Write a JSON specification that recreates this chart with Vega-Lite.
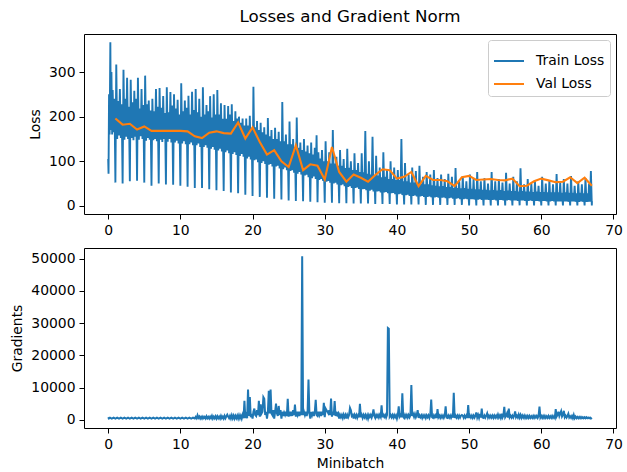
{
"$schema": "https://vega.github.io/schema/vega-lite/v6.json",
"padding": {"left": 10, "top": 8, "right": 0, "bottom": 0},
"config": {
  "font": "DejaVu Sans",
  "view": {"stroke": "black", "strokeWidth": 1},
  "axis": {"domain": false, "grid": false, "tickColor": "black", "tickSize": 5, "tickWidth": 1, "labelPadding": 4, "labelFontSize": 13.9, "labelColor": "black", "titleFontSize": 13.9, "titleFontWeight": "normal", "titleColor": "black", "titlePadding": 6},
  "title": {"fontSize": 16.7, "fontWeight": "normal", "color": "black", "offset": 8},
  "concat": {"spacing": 9}
},
"vconcat": [
  {
    "width": 532, "height": 180,
    "title": "Losses and Gradient Norm",
    "layer": [
      {
        "data": {"name": "train"},
        "mark": {"type": "line", "strokeWidth": 1.9},
        "encoding": {
          "x": {"field": "e", "type": "quantitative", "scale": {"domain": [-3.35, 70.35], "nice": false, "zero": false}, "axis": {"values": [0, 10, 20, 30, 40, 50, 60, 70], "title": null}},
          "y": {"field": "v", "type": "quantitative", "scale": {"domain": [-18.4, 385.4], "nice": false, "zero": false}, "axis": {"values": [0, 100, 200, 300], "title": "Loss"}},
          "color": {"datum": "Train Loss", "type": "nominal", "scale": {"domain": ["Train Loss", "Val Loss"], "range": ["#1f77b4", "#ff7f0e"]},
            "legend": {"title": null, "orient": "top-right", "offset": 6, "symbolType": "stroke", "symbolStrokeWidth": 2, "symbolSize": 900, "labelFontSize": 13.9, "labelColor": "black", "fillColor": "white", "strokeColor": "#cccccc", "cornerRadius": 3, "padding": 5, "rowPadding": -8, "labelOffset": 11}}
        }
      },
      {
        "data": {"name": "val"},
        "mark": {"type": "line", "strokeWidth": 2.1},
        "encoding": {
          "x": {"field": "e", "type": "quantitative"},
          "y": {"field": "v", "type": "quantitative"},
          "color": {"datum": "Val Loss", "type": "nominal"}
        }
      }
    ]
  },
  {
    "width": 532, "height": 180,
    "data": {"name": "grad"},
    "mark": {"type": "line", "strokeWidth": 2, "color": "#1f77b4"},
    "encoding": {
      "x": {"field": "e", "type": "quantitative", "scale": {"domain": [-3.35, 70.35], "nice": false, "zero": false}, "axis": {"values": [0, 10, 20, 30, 40, 50, 60, 70], "title": "Minibatch"}},
      "y": {"field": "v", "type": "quantitative", "scale": {"domain": [-2540, 53340], "nice": false, "zero": false}, "axis": {"values": [0, 10000, 20000, 30000, 40000, 50000], "format": "d", "title": "Gradients"}}
    }
  }
],
"datasets": {
"val": [
{"e":1,"v":196},{"e":2,"v":182},{"e":3,"v":184},{"e":4,"v":171},{"e":5,"v":178},{"e":6,"v":168},{"e":7,"v":168},{"e":8,"v":168},{"e":9,"v":168},{"e":10,"v":168},{"e":11,"v":167},{"e":12,"v":156},{"e":13,"v":152},{"e":14,"v":164},{"e":15,"v":167},{"e":16,"v":163},{"e":17,"v":162},{"e":18,"v":187},{"e":19,"v":151},{"e":20,"v":176},{"e":21,"v":143},{"e":22,"v":115},{"e":23,"v":125},{"e":24,"v":100},{"e":25,"v":87},{"e":26,"v":136},{"e":27,"v":80},{"e":28,"v":93},{"e":29,"v":90},{"e":30,"v":59},{"e":31,"v":132},{"e":32,"v":76},{"e":33,"v":54},{"e":34,"v":70},{"e":35,"v":63},{"e":36,"v":54},{"e":37,"v":69},{"e":38,"v":82},{"e":39,"v":80},{"e":40,"v":61},{"e":41,"v":65},{"e":42,"v":76},{"e":43,"v":44},{"e":44,"v":67},{"e":45,"v":58},{"e":46,"v":58},{"e":47,"v":55},{"e":48,"v":44},{"e":49,"v":64},{"e":50,"v":67},{"e":51,"v":58},{"e":52,"v":59},{"e":53,"v":60},{"e":54,"v":58},{"e":55,"v":57},{"e":56,"v":61},{"e":57,"v":44},{"e":58,"v":45},{"e":59,"v":55},{"e":60,"v":61},{"e":61,"v":57},{"e":62,"v":53},{"e":63,"v":54},{"e":64,"v":64},{"e":65,"v":51},{"e":66,"v":63},{"e":67,"v":45}
],
"train": [
{"e":0,"v":105},{"e":0.05,"v":72},{"e":0.12,"v":250},{"e":0.2,"v":160},{"e":0.3,"v":367},{"e":0.37,"v":170},{"e":0.45,"v":300},{"e":0.55,"v":160},{"e":0.62,"v":260},{"e":0.75,"v":165},{"e":0.87,"v":240},
{"e":1,"v":52},{"e":1.12,"v":317},{"e":1.25,"v":150},{"e":1.37,"v":235},{"e":1.5,"v":158},{"e":1.62,"v":262},{"e":1.75,"v":152},{"e":1.87,"v":228},
{"e":2,"v":50},{"e":2.12,"v":305},{"e":2.25,"v":148},{"e":2.37,"v":240},{"e":2.5,"v":155},{"e":2.62,"v":287},{"e":2.75,"v":150},{"e":2.87,"v":222},
{"e":3,"v":55},{"e":3.12,"v":283},{"e":3.25,"v":152},{"e":3.37,"v":232},{"e":3.5,"v":147},{"e":3.62,"v":258},{"e":3.75,"v":155},{"e":3.87,"v":240},
{"e":4,"v":56},{"e":4.12,"v":287},{"e":4.25,"v":148},{"e":4.37,"v":218},{"e":4.5,"v":156},{"e":4.62,"v":262},{"e":4.75,"v":150},{"e":4.87,"v":226},
{"e":5,"v":52},{"e":5.12,"v":292},{"e":5.25,"v":146},{"e":5.37,"v":228},{"e":5.5,"v":152},{"e":5.62,"v":236},{"e":5.75,"v":148},{"e":5.87,"v":214},
{"e":6,"v":45},{"e":6.12,"v":240},{"e":6.25,"v":147},{"e":6.37,"v":212},{"e":6.5,"v":150},{"e":6.62,"v":262},{"e":6.75,"v":145},{"e":6.87,"v":222},
{"e":7,"v":50},{"e":7.12,"v":264},{"e":7.25,"v":148},{"e":7.37,"v":220},{"e":7.5,"v":143},{"e":7.62,"v":246},{"e":7.75,"v":150},{"e":7.87,"v":208},
{"e":8,"v":48},{"e":8.12,"v":266},{"e":8.25,"v":144},{"e":8.37,"v":210},{"e":8.5,"v":150},{"e":8.62,"v":255},{"e":8.75,"v":142},{"e":8.87,"v":225},
{"e":9,"v":47},{"e":9.12,"v":250},{"e":9.25,"v":142},{"e":9.37,"v":218},{"e":9.5,"v":146},{"e":9.62,"v":238},{"e":9.75,"v":140},{"e":9.87,"v":205},
{"e":10,"v":45},{"e":10.12,"v":275},{"e":10.25,"v":140},{"e":10.37,"v":212},{"e":10.5,"v":145},{"e":10.62,"v":236},{"e":10.75,"v":138},{"e":10.87,"v":220},
{"e":11,"v":43},{"e":11.12,"v":247},{"e":11.25,"v":138},{"e":11.37,"v":205},{"e":11.5,"v":142},{"e":11.62,"v":256},{"e":11.75,"v":136},{"e":11.87,"v":215},
{"e":12,"v":40},{"e":12.12,"v":262},{"e":12.25,"v":136},{"e":12.37,"v":210},{"e":12.5,"v":140},{"e":12.62,"v":240},{"e":12.75,"v":132},{"e":12.87,"v":200},
{"e":13,"v":40},{"e":13.12,"v":266},{"e":13.25,"v":132},{"e":13.37,"v":205},{"e":13.5,"v":136},{"e":13.62,"v":226},{"e":13.75,"v":130},{"e":13.87,"v":212},
{"e":14,"v":37},{"e":14.12,"v":246},{"e":14.25,"v":128},{"e":14.37,"v":198},{"e":14.5,"v":132},{"e":14.62,"v":250},{"e":14.75,"v":126},{"e":14.87,"v":205},
{"e":15,"v":35},{"e":15.12,"v":260},{"e":15.25,"v":124},{"e":15.37,"v":205},{"e":15.5,"v":128},{"e":15.62,"v":230},{"e":15.75,"v":122},{"e":15.87,"v":195},
{"e":16,"v":33},{"e":16.12,"v":226},{"e":16.25,"v":120},{"e":16.37,"v":195},{"e":16.5,"v":124},{"e":16.62,"v":224},{"e":16.75,"v":118},{"e":16.87,"v":205},
{"e":17,"v":30},{"e":17.12,"v":228},{"e":17.25,"v":116},{"e":17.37,"v":190},{"e":17.5,"v":120},{"e":17.62,"v":212},{"e":17.75,"v":114},{"e":17.87,"v":196},
{"e":18,"v":28},{"e":18.12,"v":200},{"e":18.25,"v":112},{"e":18.37,"v":186},{"e":18.5,"v":116},{"e":18.62,"v":196},{"e":18.75,"v":110},{"e":18.87,"v":180},
{"e":19,"v":25},{"e":19.12,"v":196},{"e":19.25,"v":106},{"e":19.37,"v":180},{"e":19.5,"v":110},{"e":19.62,"v":202},{"e":19.75,"v":104},{"e":19.87,"v":175},
{"e":20,"v":22},{"e":20.12,"v":267},{"e":20.25,"v":102},{"e":20.37,"v":176},{"e":20.5,"v":104},{"e":20.62,"v":190},{"e":20.75,"v":98},{"e":20.87,"v":170},
{"e":21,"v":20},{"e":21.12,"v":186},{"e":21.25,"v":96},{"e":21.37,"v":165},{"e":21.5,"v":100},{"e":21.62,"v":176},{"e":21.75,"v":94},{"e":21.87,"v":160},
{"e":22,"v":18},{"e":22.12,"v":197},{"e":22.25,"v":92},{"e":22.37,"v":156},{"e":22.5,"v":94},{"e":22.62,"v":170},{"e":22.75,"v":88},{"e":22.87,"v":150},
{"e":23,"v":16},{"e":23.12,"v":175},{"e":23.25,"v":88},{"e":23.37,"v":150},{"e":23.5,"v":90},{"e":23.62,"v":166},{"e":23.75,"v":84},{"e":23.87,"v":145},
{"e":24,"v":14},{"e":24.12,"v":233},{"e":24.25,"v":82},{"e":24.37,"v":145},{"e":24.5,"v":86},{"e":24.62,"v":160},{"e":24.75,"v":80},{"e":24.87,"v":138},
{"e":25,"v":12},{"e":25.12,"v":189},{"e":25.25,"v":78},{"e":25.37,"v":138},{"e":25.5,"v":80},{"e":25.62,"v":150},{"e":25.75,"v":74},{"e":25.87,"v":132},
{"e":26,"v":11},{"e":26.12,"v":198},{"e":26.25,"v":72},{"e":26.37,"v":130},{"e":26.5,"v":76},{"e":26.62,"v":142},{"e":26.75,"v":70},{"e":26.87,"v":125},
{"e":27,"v":10},{"e":27.12,"v":150},{"e":27.25,"v":68},{"e":27.37,"v":122},{"e":27.5,"v":70},{"e":27.62,"v":135},{"e":27.75,"v":64},{"e":27.87,"v":118},
{"e":28,"v":9},{"e":28.12,"v":142},{"e":28.25,"v":62},{"e":28.37,"v":115},{"e":28.5,"v":66},{"e":28.62,"v":130},{"e":28.75,"v":60},{"e":28.87,"v":158},
{"e":29,"v":8},{"e":29.12,"v":120},{"e":29.25,"v":58},{"e":29.37,"v":106},{"e":29.5,"v":60},{"e":29.62,"v":125},{"e":29.75,"v":56},{"e":29.87,"v":100},
{"e":30,"v":7},{"e":30.12,"v":145},{"e":30.25,"v":54},{"e":30.37,"v":100},{"e":30.5,"v":56},{"e":30.62,"v":120},{"e":30.75,"v":52},{"e":30.87,"v":95},
{"e":31,"v":7},{"e":31.12,"v":170},{"e":31.25,"v":50},{"e":31.37,"v":95},{"e":31.5,"v":52},{"e":31.62,"v":110},{"e":31.75,"v":48},{"e":31.87,"v":90},
{"e":32,"v":6},{"e":32.12,"v":125},{"e":32.25,"v":46},{"e":32.37,"v":90},{"e":32.5,"v":48},{"e":32.62,"v":105},{"e":32.75,"v":44},{"e":32.87,"v":85},
{"e":33,"v":6},{"e":33.12,"v":128},{"e":33.25,"v":42},{"e":33.37,"v":85},{"e":33.5,"v":44},{"e":33.62,"v":100},{"e":33.75,"v":40},{"e":33.87,"v":80},
{"e":34,"v":5},{"e":34.12,"v":118},{"e":34.25,"v":40},{"e":34.37,"v":80},{"e":34.5,"v":41},{"e":34.62,"v":96},{"e":34.75,"v":38},{"e":34.87,"v":76},
{"e":35,"v":5},{"e":35.12,"v":118},{"e":35.25,"v":37},{"e":35.37,"v":75},{"e":35.5,"v":38},{"e":35.62,"v":168},{"e":35.75,"v":35},{"e":35.87,"v":72},
{"e":36,"v":5},{"e":36.12,"v":100},{"e":36.25,"v":34},{"e":36.37,"v":70},{"e":36.5,"v":36},{"e":36.62,"v":155},{"e":36.75,"v":32},{"e":36.87,"v":68},
{"e":37,"v":4},{"e":37.12,"v":112},{"e":37.25,"v":32},{"e":37.37,"v":68},{"e":37.5,"v":33},{"e":37.62,"v":86},{"e":37.75,"v":30},{"e":37.87,"v":64},
{"e":38,"v":4},{"e":38.12,"v":120},{"e":38.25,"v":30},{"e":38.37,"v":65},{"e":38.5,"v":31},{"e":38.62,"v":80},{"e":38.75,"v":28},{"e":38.87,"v":60},
{"e":39,"v":4},{"e":39.12,"v":100},{"e":39.25,"v":28},{"e":39.37,"v":60},{"e":39.5,"v":29},{"e":39.62,"v":86},{"e":39.75,"v":26},{"e":39.87,"v":58},
{"e":40,"v":3},{"e":40.12,"v":80},{"e":40.25,"v":26},{"e":40.37,"v":58},{"e":40.5,"v":27},{"e":40.62,"v":150},{"e":40.75,"v":24},{"e":40.87,"v":55},
{"e":41,"v":3},{"e":41.12,"v":96},{"e":41.25,"v":24},{"e":41.37,"v":55},{"e":41.5,"v":25},{"e":41.62,"v":70},{"e":41.75,"v":22},{"e":41.87,"v":52},
{"e":42,"v":3},{"e":42.12,"v":86},{"e":42.25,"v":22},{"e":42.37,"v":52},{"e":42.5,"v":23},{"e":42.62,"v":78},{"e":42.75,"v":21},{"e":42.87,"v":50},
{"e":43,"v":3},{"e":43.12,"v":90},{"e":43.25,"v":21},{"e":43.37,"v":50},{"e":43.5,"v":22},{"e":43.62,"v":65},{"e":43.75,"v":20},{"e":43.87,"v":48},
{"e":44,"v":2},{"e":44.12,"v":76},{"e":44.25,"v":20},{"e":44.37,"v":48},{"e":44.5,"v":21},{"e":44.62,"v":70},{"e":44.75,"v":19},{"e":44.87,"v":46},
{"e":45,"v":2},{"e":45.12,"v":80},{"e":45.25,"v":19},{"e":45.37,"v":45},{"e":45.5,"v":20},{"e":45.62,"v":62},{"e":45.75,"v":18},{"e":45.87,"v":44},
{"e":46,"v":2},{"e":46.12,"v":70},{"e":46.25,"v":18},{"e":46.37,"v":44},{"e":46.5,"v":19},{"e":46.62,"v":60},{"e":46.75,"v":17},{"e":46.87,"v":42},
{"e":47,"v":2},{"e":47.12,"v":72},{"e":47.25,"v":17},{"e":47.37,"v":42},{"e":47.5,"v":18},{"e":47.62,"v":65},{"e":47.75,"v":16},{"e":47.87,"v":40},
{"e":48,"v":2},{"e":48.12,"v":85},{"e":48.25,"v":16},{"e":48.37,"v":40},{"e":48.5,"v":17},{"e":48.62,"v":58},{"e":48.75,"v":15},{"e":48.87,"v":39},
{"e":49,"v":2},{"e":49.12,"v":66},{"e":49.25,"v":15},{"e":49.37,"v":40},{"e":49.5,"v":16},{"e":49.62,"v":55},{"e":49.75,"v":15},{"e":49.87,"v":38},
{"e":50,"v":1},{"e":50.12,"v":70},{"e":50.25,"v":15},{"e":50.37,"v":38},{"e":50.5,"v":15},{"e":50.62,"v":60},{"e":50.75,"v":14},{"e":50.87,"v":37},
{"e":51,"v":1},{"e":51.12,"v":76},{"e":51.25,"v":14},{"e":51.37,"v":37},{"e":51.5,"v":15},{"e":51.62,"v":55},{"e":51.75,"v":13},{"e":51.87,"v":36},
{"e":52,"v":1},{"e":52.12,"v":62},{"e":52.25,"v":14},{"e":52.37,"v":36},{"e":52.5,"v":14},{"e":52.62,"v":50},{"e":52.75,"v":13},{"e":52.87,"v":35},
{"e":53,"v":1},{"e":53.12,"v":76},{"e":53.25,"v":13},{"e":53.37,"v":35},{"e":53.5,"v":14},{"e":53.62,"v":55},{"e":53.75,"v":12},{"e":53.87,"v":34},
{"e":54,"v":1},{"e":54.12,"v":60},{"e":54.25,"v":13},{"e":54.37,"v":35},{"e":54.5,"v":13},{"e":54.62,"v":52},{"e":54.75,"v":12},{"e":54.87,"v":33},
{"e":55,"v":1},{"e":55.12,"v":74},{"e":55.25,"v":12},{"e":55.37,"v":34},{"e":55.5,"v":13},{"e":55.62,"v":50},{"e":55.75,"v":12},{"e":55.87,"v":33},
{"e":56,"v":1},{"e":56.12,"v":65},{"e":56.25,"v":12},{"e":56.37,"v":33},{"e":56.5,"v":12},{"e":56.62,"v":55},{"e":56.75,"v":11},{"e":56.87,"v":32},
{"e":57,"v":1},{"e":57.12,"v":84},{"e":57.25,"v":12},{"e":57.37,"v":33},{"e":57.5,"v":12},{"e":57.62,"v":48},{"e":57.75,"v":11},{"e":57.87,"v":32},
{"e":58,"v":1},{"e":58.12,"v":60},{"e":58.25,"v":11},{"e":58.37,"v":32},{"e":58.5,"v":12},{"e":58.62,"v":50},{"e":58.75,"v":11},{"e":58.87,"v":31},
{"e":59,"v":1},{"e":59.12,"v":55},{"e":59.25,"v":11},{"e":59.37,"v":32},{"e":59.5,"v":11},{"e":59.62,"v":45},{"e":59.75,"v":10},{"e":59.87,"v":31},
{"e":60,"v":1},{"e":60.12,"v":65},{"e":60.25,"v":11},{"e":60.37,"v":31},{"e":60.5,"v":11},{"e":60.62,"v":50},{"e":60.75,"v":10},{"e":60.87,"v":30},
{"e":61,"v":1},{"e":61.12,"v":58},{"e":61.25,"v":10},{"e":61.37,"v":30},{"e":61.5,"v":11},{"e":61.62,"v":48},{"e":61.75,"v":10},{"e":61.87,"v":30},
{"e":62,"v":1},{"e":62.12,"v":71},{"e":62.25,"v":10},{"e":62.37,"v":30},{"e":62.5,"v":10},{"e":62.62,"v":52},{"e":62.75,"v":10},{"e":62.87,"v":29},
{"e":63,"v":1},{"e":63.12,"v":60},{"e":63.25,"v":10},{"e":63.37,"v":30},{"e":63.5,"v":10},{"e":63.62,"v":50},{"e":63.75,"v":9},{"e":63.87,"v":29},
{"e":64,"v":1},{"e":64.12,"v":67},{"e":64.25,"v":10},{"e":64.37,"v":29},{"e":64.5,"v":10},{"e":64.62,"v":45},{"e":64.75,"v":9},{"e":64.87,"v":28},
{"e":65,"v":1},{"e":65.12,"v":55},{"e":65.25,"v":9},{"e":65.37,"v":29},{"e":65.5,"v":10},{"e":65.62,"v":48},{"e":65.75,"v":9},{"e":65.87,"v":28},
{"e":66,"v":1},{"e":66.12,"v":62},{"e":66.25,"v":9},{"e":66.37,"v":28},{"e":66.5,"v":9},{"e":66.62,"v":50},{"e":66.75,"v":9},{"e":66.87,"v":78},
{"e":67,"v":1},{"e":67.02,"v":10}
],
"grad": [
{"e":0,"v":800},{"e":0.1,"v":400},{"e":0.25,"v":650},{"e":0.5,"v":350},{"e":0.75,"v":650},{"e":1,"v":350},{"e":1.25,"v":650},{"e":1.5,"v":350},{"e":1.75,"v":650},{"e":2,"v":350},{"e":2.25,"v":650},{"e":2.5,"v":350},{"e":2.75,"v":650},{"e":3,"v":350},{"e":3.25,"v":650},{"e":3.5,"v":350},{"e":3.75,"v":650},{"e":4,"v":350},{"e":4.25,"v":650},{"e":4.5,"v":350},{"e":4.75,"v":650},{"e":5,"v":350},{"e":5.25,"v":650},{"e":5.5,"v":350},{"e":5.75,"v":650},{"e":6,"v":350},{"e":6.25,"v":650},{"e":6.5,"v":350},{"e":6.75,"v":650},{"e":7,"v":350},{"e":7.25,"v":650},{"e":7.5,"v":350},{"e":7.75,"v":650},{"e":8,"v":350},{"e":8.25,"v":650},{"e":8.5,"v":350},{"e":8.75,"v":650},{"e":9,"v":350},{"e":9.25,"v":650},{"e":9.5,"v":350},{"e":9.75,"v":650},{"e":10,"v":350},{"e":10.25,"v":650},{"e":10.5,"v":350},{"e":10.75,"v":650},{"e":11,"v":350},{"e":11.25,"v":650},{"e":11.5,"v":350},{"e":11.75,"v":650},
{"e":12,"v":400},{"e":12.125,"v":900},{"e":12.25,"v":500},{"e":12.375,"v":1400},{"e":12.5,"v":600},{"e":12.625,"v":1000},{"e":12.75,"v":400},{"e":12.875,"v":900},
{"e":13,"v":400},{"e":13.125,"v":1000},{"e":13.25,"v":500},{"e":13.375,"v":900},{"e":13.5,"v":400},{"e":13.625,"v":1100},{"e":13.75,"v":500},{"e":13.875,"v":900},
{"e":14,"v":400},{"e":14.125,"v":1000},{"e":14.25,"v":500},{"e":14.375,"v":1200},{"e":14.5,"v":400},{"e":14.625,"v":1000},{"e":14.75,"v":500},{"e":14.875,"v":1100},
{"e":15,"v":400},{"e":15.125,"v":1100},{"e":15.25,"v":500},{"e":15.375,"v":1000},{"e":15.5,"v":400},{"e":15.625,"v":1200},{"e":15.75,"v":500},{"e":15.875,"v":1000},
{"e":16,"v":400},{"e":16.125,"v":1200},{"e":16.25,"v":500},{"e":16.375,"v":1100},{"e":16.5,"v":1600},{"e":16.625,"v":1000},{"e":16.75,"v":500},{"e":16.875,"v":1200},
{"e":17,"v":400},{"e":17.125,"v":1400},{"e":17.25,"v":500},{"e":17.375,"v":1300},{"e":17.5,"v":400},{"e":17.625,"v":1200},{"e":17.75,"v":500},{"e":17.875,"v":1300},
{"e":18,"v":400},{"e":18.125,"v":1400},{"e":18.25,"v":500},{"e":18.375,"v":1300},{"e":18.5,"v":400},{"e":18.625,"v":1500},{"e":18.75,"v":500},{"e":18.875,"v":5900},
{"e":19,"v":600},{"e":19.125,"v":1500},{"e":19.25,"v":500},{"e":19.375,"v":9400},{"e":19.5,"v":1200},{"e":19.625,"v":7100},{"e":19.75,"v":800},{"e":19.875,"v":1800},
{"e":20,"v":400},{"e":20.125,"v":2500},{"e":20.25,"v":3500},{"e":20.375,"v":1500},{"e":20.5,"v":1200},{"e":20.625,"v":3000},{"e":20.75,"v":1500},{"e":20.875,"v":5900},
{"e":21,"v":1000},{"e":21.125,"v":4800},{"e":21.25,"v":2000},{"e":21.375,"v":2500},{"e":21.5,"v":7000},{"e":21.625,"v":6500},{"e":21.75,"v":1500},{"e":21.875,"v":2500},
{"e":22,"v":400},{"e":22.125,"v":2500},{"e":22.25,"v":9000},{"e":22.375,"v":2000},{"e":22.5,"v":9400},{"e":22.625,"v":2000},{"e":22.75,"v":1500},{"e":22.875,"v":3000},
{"e":23,"v":400},{"e":23.125,"v":2500},{"e":23.25,"v":5000},{"e":23.375,"v":2000},{"e":23.5,"v":1200},{"e":23.625,"v":4300},{"e":23.75,"v":1500},{"e":23.875,"v":3000},
{"e":24,"v":400},{"e":24.125,"v":2500},{"e":24.25,"v":1200},{"e":24.375,"v":2200},{"e":24.5,"v":1500},{"e":24.625,"v":2500},{"e":24.75,"v":1200},{"e":24.875,"v":6500},
{"e":25,"v":1000},{"e":25.125,"v":2500},{"e":25.25,"v":1200},{"e":25.375,"v":2500},{"e":25.5,"v":1200},{"e":25.625,"v":3000},{"e":25.75,"v":1500},{"e":25.875,"v":4700},
{"e":26,"v":1000},{"e":26.125,"v":2500},{"e":26.25,"v":1500},{"e":26.375,"v":2500},{"e":26.5,"v":1200},{"e":26.625,"v":2500},{"e":26.75,"v":1500},{"e":26.875,"v":50800},
{"e":27,"v":1500},{"e":27.125,"v":2500},{"e":27.25,"v":1500},{"e":27.375,"v":2500},{"e":27.5,"v":1200},{"e":27.625,"v":2500},{"e":27.75,"v":12500},{"e":27.875,"v":2000},
{"e":28,"v":400},{"e":28.125,"v":2500},{"e":28.25,"v":1500},{"e":28.375,"v":2500},{"e":28.5,"v":1200},{"e":28.625,"v":2500},{"e":28.75,"v":6200},{"e":28.875,"v":1500},
{"e":29,"v":1200},{"e":29.125,"v":2500},{"e":29.25,"v":1500},{"e":29.375,"v":2500},{"e":29.5,"v":1200},{"e":29.625,"v":2500},{"e":29.75,"v":1500},{"e":29.875,"v":5300},
{"e":30,"v":800},{"e":30.125,"v":3500},{"e":30.25,"v":3000},{"e":30.375,"v":2500},{"e":30.5,"v":2000},{"e":30.625,"v":3000},{"e":30.75,"v":1500},{"e":30.875,"v":6600},
{"e":31,"v":1000},{"e":31.125,"v":2500},{"e":31.25,"v":1500},{"e":31.375,"v":5800},{"e":31.5,"v":1200},{"e":31.625,"v":2500},{"e":31.75,"v":1500},{"e":31.875,"v":2000},
{"e":32,"v":400},{"e":32.125,"v":1500},{"e":32.25,"v":800},{"e":32.375,"v":1500},{"e":32.5,"v":600},{"e":32.625,"v":1600},{"e":32.75,"v":800},{"e":32.875,"v":1500},
{"e":33,"v":400},{"e":33.125,"v":1500},{"e":33.25,"v":800},{"e":33.375,"v":1500},{"e":33.5,"v":3700},{"e":33.625,"v":3000},{"e":33.75,"v":1200},{"e":33.875,"v":1500},
{"e":34,"v":400},{"e":34.125,"v":1500},{"e":34.25,"v":800},{"e":34.375,"v":1500},{"e":34.5,"v":600},{"e":34.625,"v":1400},{"e":34.75,"v":800},{"e":34.875,"v":5000},
{"e":35,"v":800},{"e":35.125,"v":1500},{"e":35.25,"v":600},{"e":35.375,"v":1500},{"e":35.5,"v":800},{"e":35.625,"v":1500},{"e":35.75,"v":600},{"e":35.875,"v":1400},
{"e":36,"v":400},{"e":36.125,"v":1500},{"e":36.25,"v":900},{"e":36.375,"v":1500},{"e":36.5,"v":700},{"e":36.625,"v":1600},{"e":36.75,"v":3200},{"e":36.875,"v":1200},
{"e":37,"v":600},{"e":37.125,"v":1500},{"e":37.25,"v":900},{"e":37.375,"v":1500},{"e":37.5,"v":700},{"e":37.625,"v":1500},{"e":37.75,"v":900},{"e":37.875,"v":4500},
{"e":38,"v":800},{"e":38.125,"v":1500},{"e":38.25,"v":900},{"e":38.375,"v":1500},{"e":38.5,"v":700},{"e":38.625,"v":1500},{"e":38.75,"v":28500},{"e":38.875,"v":28300},
{"e":39,"v":1000},{"e":39.125,"v":1500},{"e":39.25,"v":800},{"e":39.375,"v":1500},{"e":39.5,"v":700},{"e":39.625,"v":1500},{"e":39.75,"v":800},{"e":39.875,"v":1400},
{"e":40,"v":400},{"e":40.125,"v":1500},{"e":40.25,"v":4200},{"e":40.375,"v":1000},{"e":40.5,"v":1500},{"e":40.625,"v":800},{"e":40.75,"v":8200},{"e":40.875,"v":1000},
{"e":41,"v":600},{"e":41.125,"v":1500},{"e":41.25,"v":800},{"e":41.375,"v":1500},{"e":41.5,"v":700},{"e":41.625,"v":1500},{"e":41.75,"v":800},{"e":41.875,"v":1500},
{"e":42,"v":10800},{"e":42.125,"v":1200},{"e":42.25,"v":1800},{"e":42.375,"v":900},{"e":42.5,"v":1800},{"e":42.625,"v":800},{"e":42.75,"v":1500},{"e":42.875,"v":3000},
{"e":43,"v":600},{"e":43.125,"v":1400},{"e":43.25,"v":800},{"e":43.375,"v":1400},{"e":43.5,"v":600},{"e":43.625,"v":1400},{"e":43.75,"v":800},{"e":43.875,"v":1400},
{"e":44,"v":600},{"e":44.125,"v":1400},{"e":44.25,"v":800},{"e":44.375,"v":1400},{"e":44.5,"v":600},{"e":44.625,"v":1400},{"e":44.75,"v":6300},{"e":44.875,"v":800},
{"e":45,"v":600},{"e":45.125,"v":1400},{"e":45.25,"v":800},{"e":45.375,"v":1400},{"e":45.5,"v":600},{"e":45.625,"v":3300},{"e":45.75,"v":800},{"e":45.875,"v":1300},
{"e":46,"v":600},{"e":46.125,"v":1300},{"e":46.25,"v":700},{"e":46.375,"v":1300},{"e":46.5,"v":600},{"e":46.625,"v":1300},{"e":46.75,"v":4200},{"e":46.875,"v":700},
{"e":47,"v":600},{"e":47.125,"v":1300},{"e":47.25,"v":700},{"e":47.375,"v":1300},{"e":47.5,"v":600},{"e":47.625,"v":1300},{"e":47.75,"v":700},{"e":47.875,"v":8400},
{"e":48,"v":600},{"e":48.125,"v":1300},{"e":48.25,"v":700},{"e":48.375,"v":1300},{"e":48.5,"v":600},{"e":48.625,"v":1300},{"e":48.75,"v":700},{"e":48.875,"v":1300},
{"e":49,"v":1500},{"e":49.125,"v":1300},{"e":49.25,"v":600},{"e":49.375,"v":1300},{"e":49.5,"v":700},{"e":49.625,"v":1300},{"e":49.75,"v":600},{"e":49.875,"v":4600},
{"e":50,"v":600},{"e":50.125,"v":1300},{"e":50.25,"v":700},{"e":50.375,"v":1300},{"e":50.5,"v":600},{"e":50.625,"v":1300},{"e":50.75,"v":700},{"e":50.875,"v":1300},
{"e":51,"v":2300},{"e":51.125,"v":700},{"e":51.25,"v":1500},{"e":51.375,"v":600},{"e":51.5,"v":1800},{"e":51.625,"v":700},{"e":51.75,"v":3500},{"e":51.875,"v":700},
{"e":52,"v":600},{"e":52.125,"v":1300},{"e":52.25,"v":700},{"e":52.375,"v":1300},{"e":52.5,"v":2000},{"e":52.625,"v":700},{"e":52.75,"v":1300},{"e":52.875,"v":700},
{"e":53,"v":1300},{"e":53.125,"v":700},{"e":53.25,"v":1300},{"e":53.375,"v":600},{"e":53.5,"v":1300},{"e":53.625,"v":700},{"e":53.75,"v":1300},{"e":53.875,"v":700},
{"e":54,"v":1600},{"e":54.125,"v":700},{"e":54.25,"v":1300},{"e":54.375,"v":600},{"e":54.5,"v":1900},{"e":54.625,"v":700},{"e":54.75,"v":1300},{"e":54.875,"v":4000},
{"e":55,"v":800},{"e":55.125,"v":1300},{"e":55.25,"v":2000},{"e":55.375,"v":700},{"e":55.5,"v":3500},{"e":55.625,"v":800},{"e":55.75,"v":1300},{"e":55.875,"v":700},
{"e":56,"v":1300},{"e":56.125,"v":700},{"e":56.25,"v":1300},{"e":56.375,"v":2600},{"e":56.5,"v":800},{"e":56.625,"v":1300},{"e":56.75,"v":700},{"e":56.875,"v":1600},
{"e":57,"v":700},{"e":57.125,"v":1500},{"e":57.25,"v":600},{"e":57.375,"v":1300},{"e":57.5,"v":700},{"e":57.625,"v":1300},{"e":57.75,"v":600},{"e":57.875,"v":1200},
{"e":58,"v":600},{"e":58.125,"v":1200},{"e":58.25,"v":600},{"e":58.375,"v":1200},{"e":58.5,"v":600},{"e":58.625,"v":1100},{"e":58.75,"v":600},{"e":58.875,"v":1200},
{"e":59,"v":600},{"e":59.125,"v":1200},{"e":59.25,"v":700},{"e":59.375,"v":1200},{"e":59.5,"v":600},{"e":59.625,"v":1200},{"e":59.75,"v":4100},{"e":59.875,"v":700},
{"e":60,"v":1200},{"e":60.125,"v":600},{"e":60.25,"v":1200},{"e":60.375,"v":600},{"e":60.5,"v":1200},{"e":60.625,"v":600},{"e":60.75,"v":1100},{"e":60.875,"v":600},
{"e":61,"v":1200},{"e":61.125,"v":600},{"e":61.25,"v":1100},{"e":61.375,"v":600},{"e":61.5,"v":1200},{"e":61.625,"v":600},{"e":61.75,"v":1100},{"e":61.875,"v":600},
{"e":62,"v":3300},{"e":62.125,"v":1000},{"e":62.25,"v":1500},{"e":62.375,"v":2500},{"e":62.5,"v":1200},{"e":62.625,"v":2000},{"e":62.75,"v":2700},{"e":62.875,"v":1000},
{"e":63,"v":1500},{"e":63.125,"v":2800},{"e":63.25,"v":800},{"e":63.375,"v":1300},{"e":63.5,"v":700},{"e":63.625,"v":1200},{"e":63.75,"v":1900},{"e":63.875,"v":700},
{"e":64,"v":1100},{"e":64.125,"v":600},{"e":64.25,"v":1200},{"e":64.375,"v":500},{"e":64.5,"v":1500},{"e":64.625,"v":500},{"e":64.75,"v":1000},{"e":64.875,"v":500},
{"e":65,"v":900},{"e":65.125,"v":500},{"e":65.25,"v":900},{"e":65.375,"v":500},{"e":65.5,"v":900},{"e":65.625,"v":500},{"e":65.75,"v":800},{"e":65.875,"v":500},
{"e":66,"v":800},{"e":66.125,"v":500},{"e":66.25,"v":800},{"e":66.375,"v":500},{"e":66.5,"v":700},{"e":66.625,"v":500},{"e":66.75,"v":700},{"e":66.875,"v":400},
{"e":67,"v":700}
]
}
}
